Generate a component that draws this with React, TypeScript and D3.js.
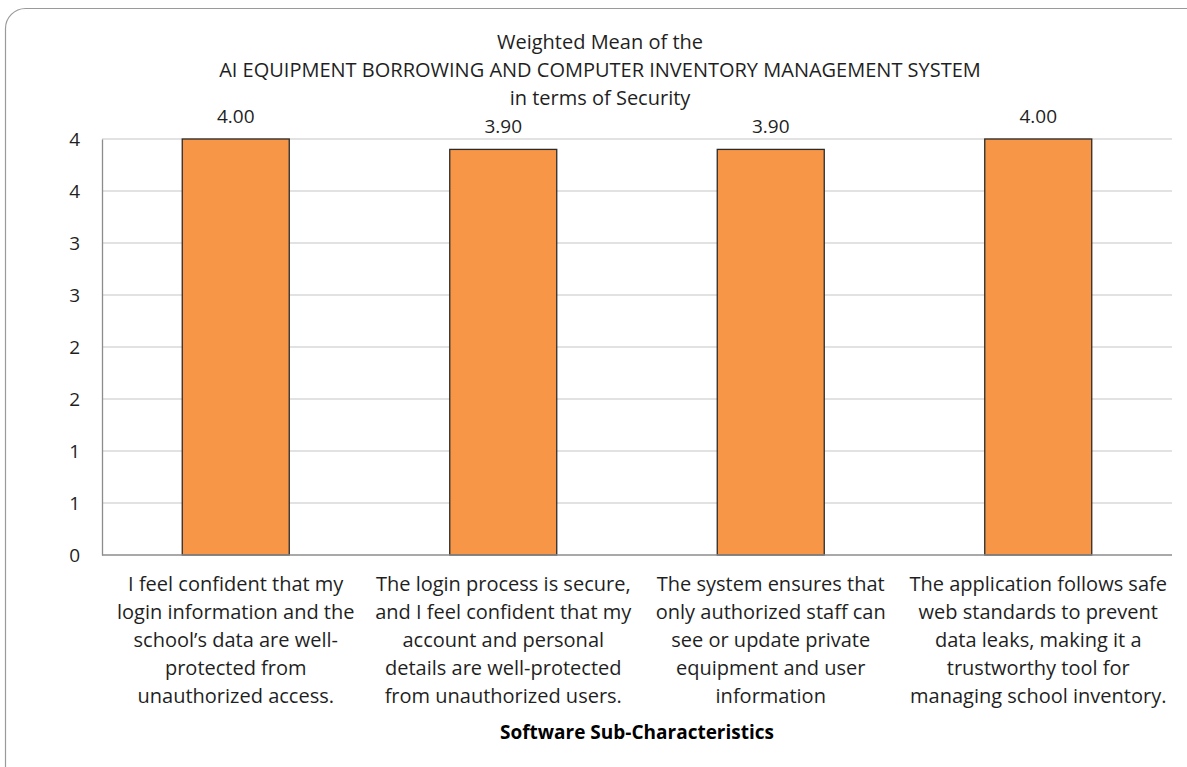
import { useEffect, useRef } from "react";
import * as d3 from "d3";

const categories = [
  ["I feel confident that my", "login information and the", "school\u2019s data are well-", "protected from", "unauthorized access."],
  ["The login process is secure,", "and I feel confident that my", "account and personal", "details are well-protected", "from unauthorized users."],
  ["The system ensures that", "only authorized staff can", "see or update private", "equipment and user", "information"],
  ["The application follows safe", "web standards to prevent", "data leaks, making it a", "trustworthy tool for", "managing school inventory."],
];
const values = [4.0, 3.9, 3.9, 4.0];
const tickValues = [0, 0.5, 1, 1.5, 2, 2.5, 3, 3.5, 4];
const tickLabels = ["0", "1", "1", "2", "2", "3", "3", "4", "4"];
const titleLines = [
  "Weighted Mean of the",
  "AI EQUIPMENT BORROWING AND COMPUTER INVENTORY MANAGEMENT SYSTEM",
  "in terms of Security",
];
const xTitle = "Software Sub-Characteristics";

const W = 1187;
const H = 767;
const margin = { top: 139, right: 15, bottom: 212, left: 102 };
const font = "'Open Sans', 'Noto Sans', sans-serif";
const textColor = "#1f1f1f";

const drawChart = (ref: SVGSVGElement) => {
  const svg = d3.select(ref);
  svg.selectAll("*").remove();

  const x = d3
    .scaleBand<number>()
    .domain(d3.range(values.length))
    .range([margin.left, W - margin.right])
    .paddingInner(0.6)
    .paddingOuter(0.3);
  const y = d3
    .scaleLinear()
    .domain([0, 4])
    .range([H - margin.bottom, margin.top]);

  // outer rounded frame
  svg.append("rect")
    .attr("x", 5.5)
    .attr("y", 8.5)
    .attr("width", 1210)
    .attr("height", 800)
    .attr("rx", 20)
    .attr("fill", "white")
    .attr("stroke", "#9a9a9a")
    .attr("stroke-width", 1.2);

  // gridlines
  svg.append("g")
    .selectAll("line")
    .data(tickValues.filter((d) => d > 0))
    .enter()
    .append("line")
    .attr("x1", margin.left)
    .attr("x2", W - margin.right)
    .attr("y1", (d) => y(d))
    .attr("y2", (d) => y(d))
    .attr("stroke", "#d9d9d9")
    .attr("stroke-width", 1.3);

  // y axis
  const axisLeft = d3
    .axisLeft(y)
    .tickValues(tickValues)
    .tickFormat((_d, i) => tickLabels[i])
    .tickSize(0)
    .tickPadding(22);
  const gy = svg.append("g").attr("transform", `translate(${margin.left},0)`).call(axisLeft);
  gy.select(".domain").attr("stroke", "#8c8c8c").attr("stroke-width", 1.3);
  gy.selectAll("text")
    .attr("font-family", font)
    .attr("font-size", 19)
    .attr("fill", textColor);

  // bars
  svg.append("g")
    .selectAll("rect")
    .data(values)
    .enter()
    .append("rect")
    .attr("x", (_d, i) => x(i)!)
    .attr("y", (d) => y(d))
    .attr("width", x.bandwidth())
    .attr("height", (d) => y(0) - y(d))
    .attr("fill", "#f79646")
    .attr("stroke", "#2b2b2b")
    .attr("stroke-width", 1.3);

  // x axis line
  svg.append("line")
    .attr("x1", margin.left)
    .attr("x2", W - margin.right)
    .attr("y1", y(0))
    .attr("y2", y(0))
    .attr("stroke", "#8c8c8c")
    .attr("stroke-width", 1.3);

  // value labels
  svg.append("g")
    .selectAll("text")
    .data(values)
    .enter()
    .append("text")
    .attr("x", (_d, i) => x(i)! + x.bandwidth() / 2)
    .attr("y", (d) => y(d) - 16)
    .attr("text-anchor", "middle")
    .attr("font-family", font)
    .attr("font-size", 19)
    .attr("fill", textColor)
    .text((d) => d3.format(".2f")(d));

  // category labels
  const cats = svg.append("g")
    .selectAll("text")
    .data(categories)
    .enter()
    .append("text")
    .attr("text-anchor", "middle")
    .attr("font-family", font)
    .attr("font-size", 20)
    .attr("fill", textColor);
  cats.each(function (lines, i) {
    const el = d3.select(this);
    lines.forEach((line, j) => {
      el.append("tspan")
        .attr("x", x(i)! + x.bandwidth() / 2)
        .attr("y", y(0) + 36 + j * 28)
        .text(line);
    });
  });

  // axis title
  svg.append("text")
    .attr("x", (margin.left + W - margin.right) / 2)
    .attr("y", 739)
    .attr("text-anchor", "middle")
    .attr("font-family", font)
    .attr("font-size", 19)
    .attr("font-weight", "bold")
    .attr("fill", "#000")
    .text(xTitle);

  // chart title
  svg.append("g")
    .selectAll("text")
    .data(titleLines)
    .enter()
    .append("text")
    .attr("x", 600)
    .attr("y", (_d, i) => 49 + i * 28)
    .attr("text-anchor", "middle")
    .attr("font-family", font)
    .attr("font-size", 20)
    .attr("fill", textColor)
    .text((d) => d);
};

export default function App() {
  const ref = useRef<SVGSVGElement>(null);
  useEffect(() => {
    document.body.style.margin = "0";
    if (ref.current) drawChart(ref.current);
  }, []);
  return <svg ref={ref} width={W} height={H} style={{ display: "block" }} />;
}
